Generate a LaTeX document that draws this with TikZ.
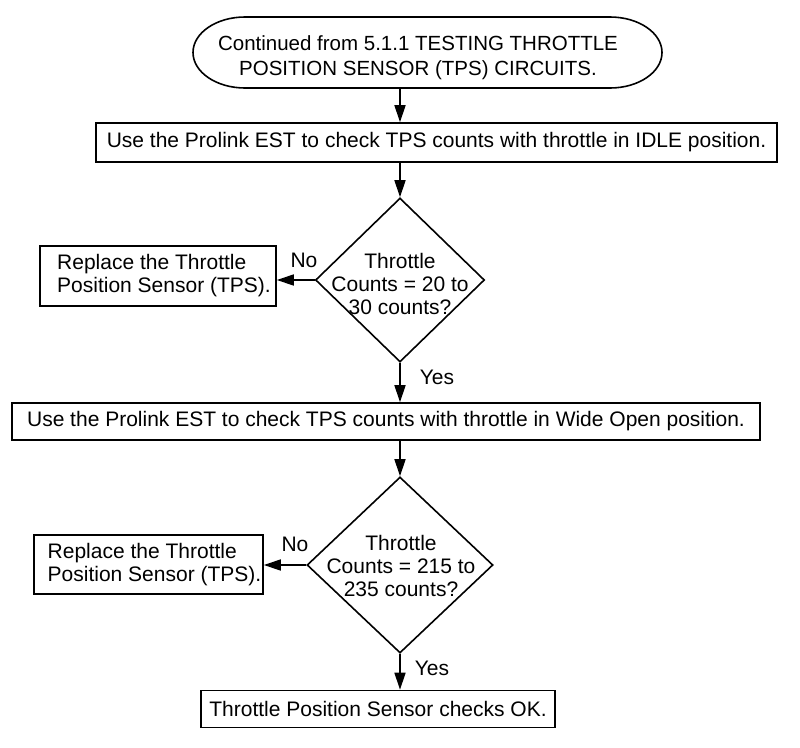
\documentclass[tikz,border=0pt]{standalone}
\usepackage{fontspec}
\setmainfont{Liberation Sans}
\usetikzlibrary{shapes.geometric,arrows.meta}
\begin{document}
\begin{tikzpicture}[x=1pt,y=-1pt,
  every node/.style={font=\fontsize{21}{23}\selectfont},
  box/.style={draw,line width=1.6pt,rectangle,inner sep=0pt},
  dia/.style={draw,line width=1.6pt,diamond,inner sep=0pt},
  outline/.style={line width=1.6pt},
  arr/.style={line width=1.6pt,-{Triangle[length=17pt,width=11pt]}},
  lbl/.style={inner sep=0pt}]
\useasboundingbox (0,0) rectangle (800,747);
% start terminal (flattened oval)
\node[rectangle,inner sep=0pt,minimum width=469pt,minimum height=71pt] (e) at (427.5,52.5) {};
\draw[outline] (245,17) -- (610,17)
  .. controls (638.7,17) and (662,32.9) .. (662,52.5)
  .. controls (662,72.1) and (638.7,88) .. (610,88)
  -- (245,88)
  .. controls (216.3,88) and (193,72.1) .. (193,52.5)
  .. controls (193,32.9) and (216.3,17) .. (245,17) -- cycle;
\node[lbl,align=center,font=\fontsize{20.5}{25}\selectfont] (et) at (418,58)
  {Continued from 5.1.1 TESTING THROTTLE\\POSITION SENSOR (TPS) CIRCUITS.};
\node[box,minimum width=681pt,minimum height=39pt] (b1) at (436.5,142.5)
  {Use the Prolink EST to check TPS counts with throttle in IDLE position.};
\node[dia,minimum width=169pt,minimum height=164pt] (d1) at (400,280) {};
\node[lbl,align=center] (d1t) at (400,284) {Throttle\\Counts = 20 to\\30 counts?};
\node[box,minimum width=236pt,minimum height=60pt,align=left] (r1) at (158,276)
  {\hspace*{12pt}Replace the Throttle\\\hspace*{12pt}Position Sensor (TPS).};
\node[lbl] (no1) at (304,260) {No};
\node[lbl] (yes1) at (437,377) {Yes};
\node[box,minimum width=748pt,minimum height=37pt] (b2) at (386,421.5)
  {Use the Prolink EST to check TPS counts with throttle in Wide Open position.};
\node[dia,minimum width=186pt,minimum height=176pt] (d2) at (400,565) {};
\node[lbl,align=center] (d2t) at (401,566) {Throttle\\Counts = 215 to\\235 counts?};
\node[box,minimum width=229pt,minimum height=59pt,align=left] (r2) at (148.5,564.5)
  {\hspace*{12pt}Replace the Throttle\\\hspace*{12pt}Position Sensor (TPS).};
\node[lbl] (no2) at (295,544) {No};
\node[lbl] (yes2) at (432,668) {Yes};
\node[box,minimum width=354pt,minimum height=37pt] (b3) at (378,709)
  {Throttle Position Sensor checks OK.};
\draw[arr] (e.south -| d1) -- (b1.north -| d1);
\draw[arr] (b1.south -| d1) -- (d1.north);
\draw[arr] (d1.south) -- (b2.north -| d1);
\draw[arr] (b2.south -| d2) -- (d2.north);
\draw[arr] (d2.south) -- (b3.north -| d2);
\draw[arr] (d1.west) -- (r1.east |- d1.west);
\draw[arr] (d2.west) -- (r2.east |- d2.west);
\end{tikzpicture}
\end{document}
